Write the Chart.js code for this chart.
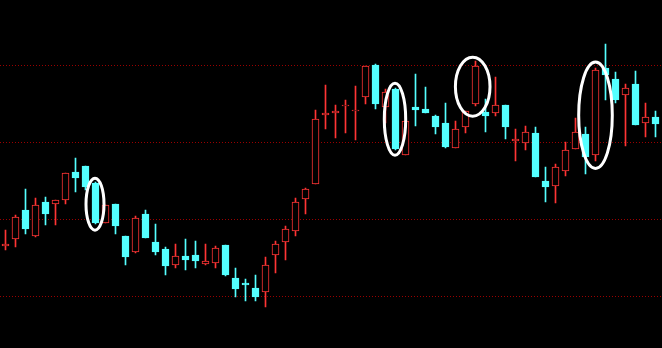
<!DOCTYPE html>
<html>
<head>
<meta charset="utf-8">
<script src="https://cdn.jsdelivr.net/npm/chart.js@4"></script>
<style>
html,body{margin:0;padding:0;background:#000;overflow:hidden;}
canvas{display:block;}
</style>
</head>
<body>
<canvas id="c" width="662" height="348"></canvas>
<script>
const categories = ['1','2','3','4','5','6','7','8','9','10','11','12','13','14','15','16','17','18','19','20','21','22','23','24','25','26','27','28','29','30','31','32','33','34','35','36','37','38','39','40','41','42','43','44','45','46','47','48','49','50','51','52','53','54','55','56','57','58','59','60','61','62','63','64','65','66'];

const opens  = [17.54,17.61,17.90,17.64,17.98,17.96,18.00,18.28,18.34,18.17,17.77,17.96,17.64,17.48,17.86,17.58,17.51,17.35,17.44,17.45,17.36,17.37,17.55,17.22,17.17,17.12,17.08,17.45,17.58,17.69,18.01,18.16,18.85,18.87,18.94,18.89,19.03,19.35,18.93,19.11,18.45,18.93,18.91,18.84,18.77,18.52,18.73,18.96,18.88,18.87,18.95,18.59,18.57,18.67,18.19,18.14,18.29,18.51,18.66,18.45,19.32,19.21,19.05,19.16,18.77,18.83];
const highs  = [17.70,17.85,18.11,18.02,18.03,18.00,18.27,18.42,18.34,18.18,17.95,17.96,17.64,17.84,17.90,17.76,17.53,17.56,17.61,17.59,17.56,17.54,17.55,17.32,17.21,17.25,17.43,17.59,17.74,18.02,18.12,18.90,19.15,18.95,19.00,19.14,19.34,19.36,19.11,19.12,18.84,19.26,19.13,18.85,18.97,18.79,18.89,19.39,19.01,19.23,18.95,18.71,18.74,18.73,18.33,18.36,18.58,18.82,18.73,19.32,19.56,19.28,19.16,19.29,18.97,18.89];
const lows   = [17.50,17.53,17.66,17.63,17.75,17.75,17.96,18.08,18.10,17.76,17.77,17.66,17.35,17.47,17.62,17.45,17.25,17.32,17.30,17.32,17.35,17.32,17.24,17.03,16.99,16.99,16.93,17.27,17.40,17.64,17.86,18.16,18.71,18.62,18.67,18.60,18.96,18.91,18.77,18.50,18.45,18.74,18.87,18.66,18.52,18.52,18.67,18.94,18.68,18.84,18.61,18.39,18.50,18.23,17.98,17.97,18.24,18.51,18.26,18.39,19.00,18.97,18.54,18.75,18.63,18.63];
const closes = [17.56,17.83,17.71,17.95,17.86,18.00,18.27,18.22,18.13,17.77,17.95,17.74,17.43,17.82,17.62,17.48,17.34,17.44,17.40,17.39,17.39,17.52,17.25,17.11,17.15,17.03,17.35,17.56,17.71,17.98,18.11,18.81,18.87,18.89,18.95,18.90,19.34,18.96,19.08,18.51,18.79,18.90,18.87,18.73,18.53,18.71,18.89,19.34,18.84,18.95,18.73,18.61,18.68,18.23,18.13,18.33,18.50,18.68,18.43,19.30,19.25,19.00,19.12,18.75,18.83,18.76];

// dotted reference levels
const gridLevels = [19.35, 18.58, 17.81, 17.04];

// highlighted candles: [centre index, centre price, half-width (candles), half-height (price)]
const ellipseIdx   = [8.95, 38.95, 46.72, 59.0];
const ellipsePrice = [17.958, 18.808, 19.133, 18.847];
const ellipseHalfW = [0.90, 1.07, 1.73, 1.68];
const ellipseHalfH = [0.26, 0.36, 0.295, 0.532];

const Y_MIN = 16.52, Y_MAX = 20.00;
const UP = '#ff3434', DOWN = '#54ffff';

const isUp = i => closes[i] >= opens[i];

const bodies = categories.map((_, i) => [opens[i], closes[i]]);
const wicks  = categories.map((_, i) => [lows[i], highs[i]]);

const gridPlugin = {
  id: 'dottedGrid',
  beforeDatasetsDraw(chart) {
    const ctx = chart.ctx, y = chart.scales.y;
    ctx.save();
    ctx.strokeStyle = '#9a0000';
    ctx.lineWidth = 1;
    ctx.setLineDash([1, 2]);
    gridLevels.forEach(v => {
      const py = Math.round(y.getPixelForValue(v)) + 0.5;
      ctx.beginPath();
      ctx.moveTo(0, py);
      ctx.lineTo(chart.width, py);
      ctx.stroke();
    });
    ctx.restore();
  }
};

const ellipsePlugin = {
  id: 'ellipses',
  afterDatasetsDraw(chart) {
    const ctx = chart.ctx, x = chart.scales.x, y = chart.scales.y;
    ctx.save();
    ctx.strokeStyle = '#ffffff';
    ctx.lineWidth = 3;
    ellipseIdx.forEach((ix, k) => {
      const cx = x.getPixelForValue(ix);
      const cy = y.getPixelForValue(ellipsePrice[k]);
      const rx = Math.abs(x.getPixelForValue(ix + ellipseHalfW[k]) - cx);
      const ry = Math.abs(y.getPixelForValue(ellipsePrice[k] + ellipseHalfH[k]) - cy);
      ctx.beginPath();
      ctx.ellipse(cx, cy, rx, ry, 0, 0, Math.PI * 2);
      ctx.stroke();
    });
    ctx.restore();
  }
};

new Chart(document.getElementById('c'), {
  type: 'bar',
  data: {
    labels: categories,
    datasets: [
      {
        label: 'body',
        data: bodies,
        grouped: false,
        barThickness: 7,
        borderWidth: 1,
        borderSkipped: false,
        backgroundColor: c => isUp(c.dataIndex) ? '#000000' : DOWN,
        borderColor: c => isUp(c.dataIndex) ? UP : DOWN
      },
      {
        label: 'wick',
        data: wicks,
        grouped: false,
        barThickness: 1,
        borderWidth: 0,
        backgroundColor: c => isUp(c.dataIndex) ? UP : DOWN
      }
    ]
  },
  options: {
    responsive: false,
    animation: false,
    devicePixelRatio: 1,
    layout: { padding: { left: 0.5, right: 1.5, top: 0, bottom: 0 } },
    plugins: { legend: { display: false }, tooltip: { enabled: false } },
    scales: {
      x: { display: false, offset: true },
      y: { display: false, min: Y_MIN, max: Y_MAX }
    }
  },
  plugins: [gridPlugin, ellipsePlugin]
});
</script>
</body>
</html>
